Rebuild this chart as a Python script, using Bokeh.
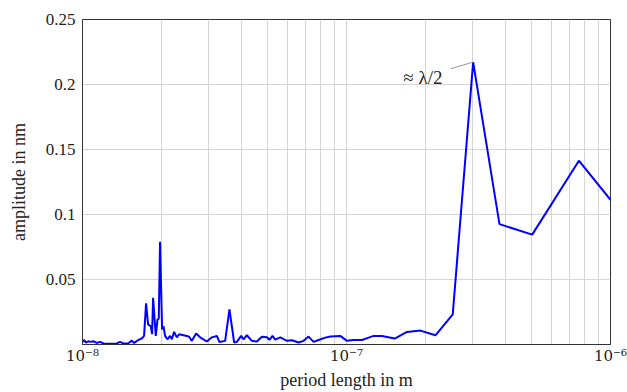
from bokeh.plotting import figure
from bokeh.models import Range1d, FixedTicker, Label, ColumnDataSource
from bokeh.embed import file_html
from bokeh.resources import INLINE

# period length in m and amplitude in nm
periods = [1.002e-8, 1.013e-8, 1.031e-8, 1.052e-8, 1.074e-8, 1.099e-8, 1.132e-8, 1.165e-8,
           1.199e-8, 1.271e-8, 1.348e-8, 1.387e-8, 1.428e-8, 1.492e-8, 1.537e-8, 1.568e-8,
           1.628e-8, 1.677e-8, 1.711e-8, 1.741e-8, 1.772e-8, 1.814e-8, 1.835e-8, 1.851e-8,
           1.895e-8, 1.922e-8, 1.945e-8, 1.967e-8, 2.002e-8, 2.025e-8, 2.056e-8, 2.097e-8,
           2.147e-8, 2.179e-8, 2.223e-8, 2.276e-8, 2.322e-8, 2.484e-8, 2.535e-8, 2.595e-8,
           2.694e-8, 2.790e-8, 2.958e-8, 3.090e-8, 3.228e-8, 3.302e-8, 3.470e-8, 3.603e-8,
           3.754e-8, 3.844e-8, 3.991e-8, 4.072e-8, 4.195e-8, 4.381e-8, 4.577e-8, 4.781e-8,
           4.994e-8, 5.110e-8, 5.245e-8, 5.370e-8, 5.610e-8, 5.948e-8, 6.214e-8, 6.584e-8,
           6.877e-8, 7.184e-8, 7.505e-8, 7.840e-8, 8.312e-8, 8.683e-8, 9.474e-8, 1.004e-7,
           1.064e-7, 1.145e-7, 1.213e-7, 1.267e-7, 1.363e-7, 1.522e-7, 1.696e-7, 1.905e-7,
           2.172e-7, 2.526e-7, 3.018e-7, 3.797e-7, 5.052e-7, 7.591e-7, 1.0e-6]
amplitudes = [0.0020, 0.0035, 0.0015, 0.0025, 0.0020, 0.0025, 0.0012, 0.0020,
              0.0008, 0.0006, 0.0008, 0.0020, 0.0008, 0.0010, 0.0030, 0.0012,
              0.0035, 0.0046, 0.0066, 0.0316, 0.0155, 0.0140, 0.0080, 0.0360,
              0.0066, 0.0190, 0.0200, 0.0790, 0.0117, 0.0140, 0.0066, 0.0040,
              0.0066, 0.0040, 0.0097, 0.0055, 0.0079, 0.0066, 0.0060, 0.0028,
              0.0084, 0.0055, 0.0023, 0.0055, 0.0066, 0.0019, 0.0028, 0.0270,
              0.0015, 0.0020, 0.0066, 0.0040, 0.0071, 0.0028, 0.0023, 0.0060,
              0.0055, 0.0036, 0.0066, 0.0038, 0.0055, 0.0028, 0.0033, 0.0015,
              0.0028, 0.0061, 0.0020, 0.0035, 0.0053, 0.0061, 0.0066, 0.0028,
              0.0035, 0.0035, 0.0053, 0.0066, 0.0066, 0.0046, 0.0097, 0.0107,
              0.0071, 0.0232, 0.2172, 0.0926, 0.0845, 0.1414, 0.1113]

x_tick_values = [1e-8, 1e-7, 1e-6]
x_tick_labels = ["10\u207b\u2078", "10\u207b\u2077", "10\u207b\u2076"]
x_minor_values = [2e-8, 3e-8, 4e-8, 5e-8, 6e-8, 7e-8, 8e-8, 9e-8,
                  2e-7, 3e-7, 4e-7, 5e-7, 6e-7, 7e-7, 8e-7, 9e-7]
y_tick_values = [0.05, 0.1, 0.15, 0.2, 0.25]
y_tick_labels = ["0.05", "0.1", "0.15", "0.2", "0.25"]

annot_text = "\u2248 \u03bb/2"
annot_pos = (1.642e-7, 0.2054)
pin_start = (2.476e-7, 0.2121)
pin_end = (3.018e-7, 0.2172)

FONT = "Liberation Serif"
GRID = "#d4d4d4"

p = figure(width=627, height=392, x_axis_type="log",
           x_range=Range1d(1e-8, 1e-6), y_range=Range1d(0, 0.25),
           output_backend="svg", toolbar_location=None,
           min_border_left=82, min_border_right=17, min_border_top=19, min_border_bottom=47)

p.outline_line_color = "#333333"
p.outline_line_width = 1

p.xaxis.ticker = FixedTicker(ticks=x_tick_values, minor_ticks=x_minor_values)
p.yaxis.ticker = FixedTicker(ticks=y_tick_values)
p.xaxis.major_label_overrides = dict(zip(x_tick_values, x_tick_labels))
p.yaxis.major_label_overrides = dict(zip(y_tick_values, y_tick_labels))

for ax in (p.xaxis[0], p.yaxis[0]):
    ax.axis_line_color = "#333333"
    ax.major_tick_in = 0
    ax.major_tick_out = 0
    ax.minor_tick_in = 0
    ax.minor_tick_out = 0
    ax.major_label_text_font = FONT
    ax.major_label_text_font_size = "17px"
    ax.major_label_text_color = "#222222"
    ax.axis_label_text_font = FONT
    ax.axis_label_text_font_size = "18px"
    ax.axis_label_text_font_style = "normal"
    ax.axis_label_text_color = "#222222"

p.xaxis.major_label_text_font = "DejaVu Serif"
p.xaxis.major_label_text_font_size = "15px"
p.xaxis.axis_label = "period length in m"
p.yaxis.axis_label = "amplitude in nm"
p.xaxis.major_label_standoff = 2
p.xaxis.axis_label_standoff = 2
p.yaxis.major_label_standoff = 7
p.yaxis.axis_label_standoff = 14

p.xgrid.ticker = p.xaxis.ticker
p.xgrid.grid_line_color = GRID
p.xgrid.minor_grid_line_color = GRID
p.ygrid.grid_line_color = GRID

src = ColumnDataSource(dict(x=periods, y=amplitudes))
p.line("x", "y", source=src, line_color="#0000ff", line_width=2)

p.segment(x0=[pin_start[0]], y0=[pin_start[1]], x1=[pin_end[0]], y1=[pin_end[1]],
          line_color="#999999", line_width=1)
p.add_layout(Label(x=annot_pos[0], y=annot_pos[1], text=annot_text,
                   text_font=FONT, text_font_size="19px", text_color="#222222",
                   text_baseline="middle", text_align="left"))

open("out.html", "w").write(file_html(p, INLINE))
